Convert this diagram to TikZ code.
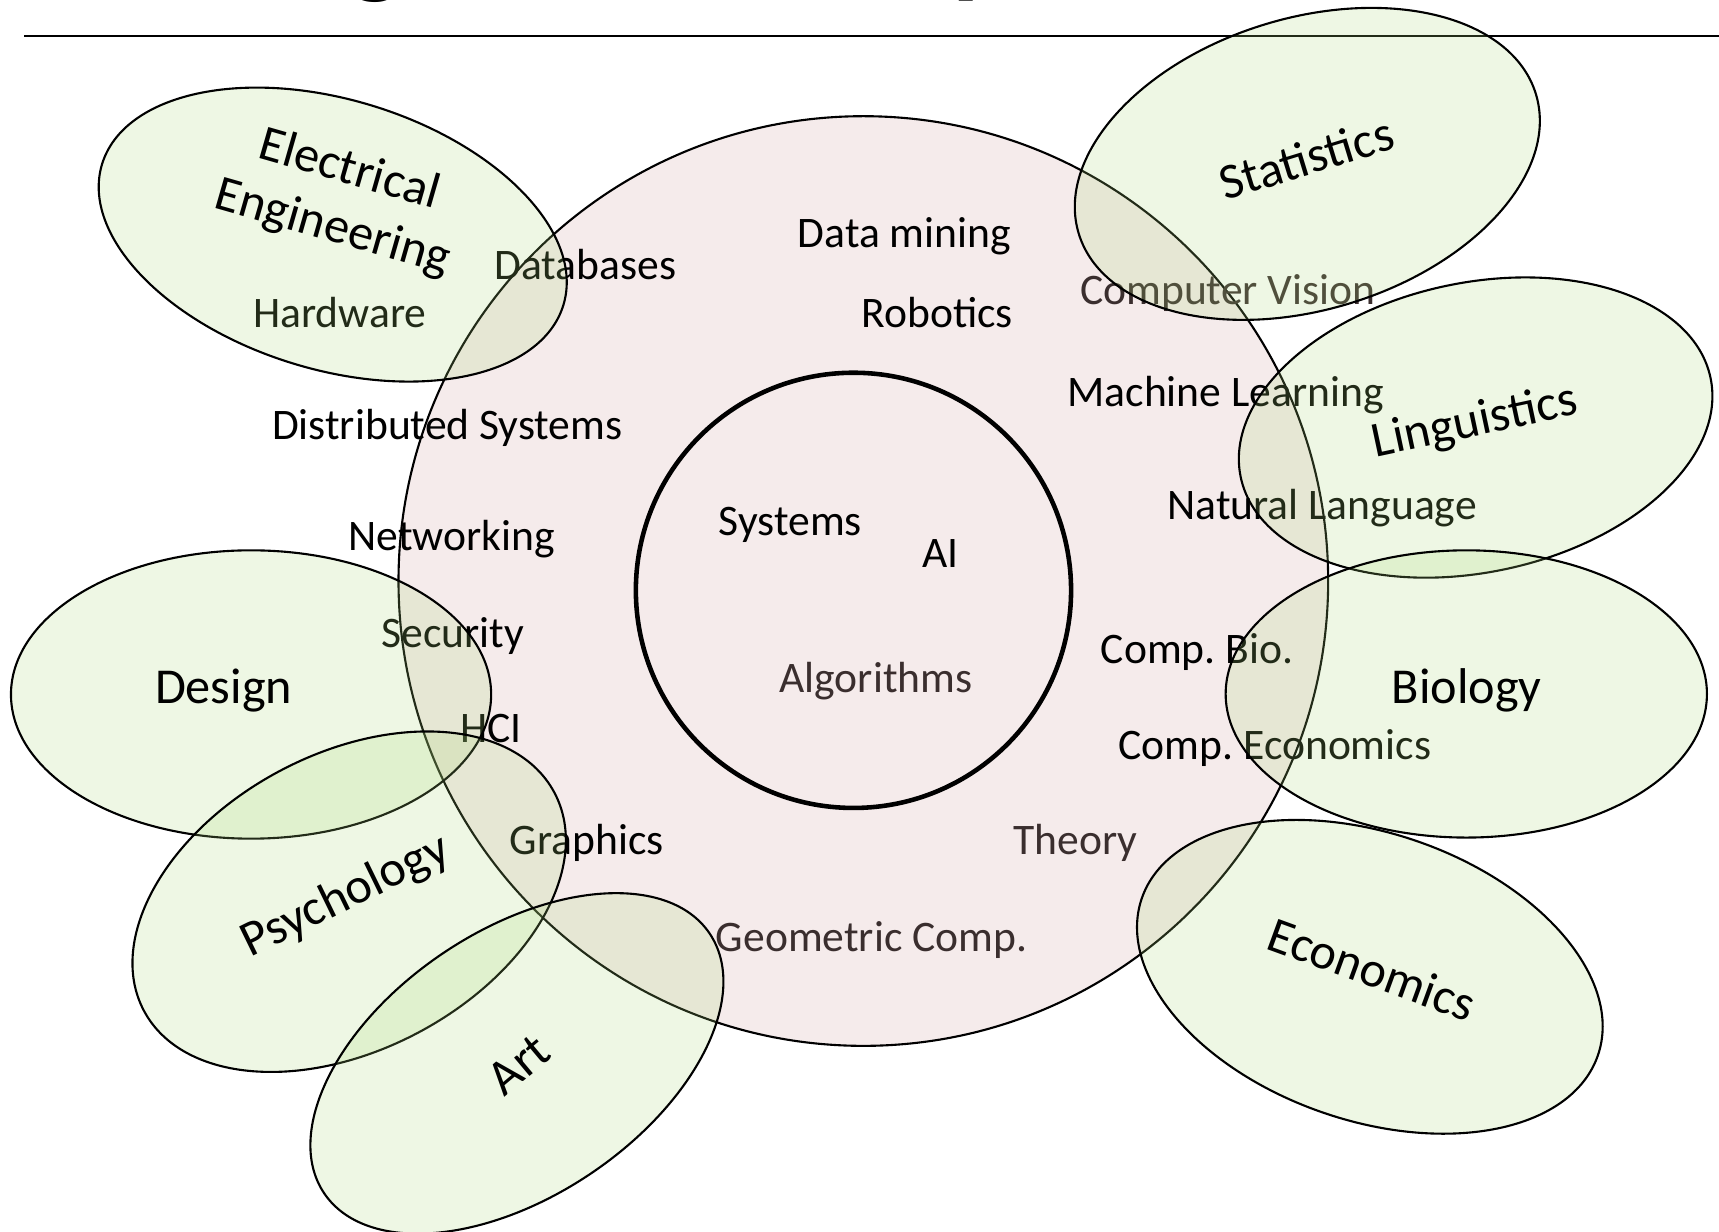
\documentclass[tikz,border=0pt]{standalone}
\usepackage{fontspec}
\setmainfont{Carlito}
\frenchspacing
\definecolor{csfill}{HTML}{F5EBEB}
\definecolor{fieldfill}{RGB}{170,215,120}
\definecolor{softtext}{HTML}{3A2E2E}

\begin{document}
\begin{tikzpicture}[x=0.10963mm, y=-0.10963mm,
        field/.style={draw=black, line width=0.6pt, fill=fieldfill, fill opacity=0.2},
        area/.style={font=\fontsize{12.4}{14}\selectfont, text height=1.6ex, text depth=0.22ex, inner sep=0pt},
        faded/.style={area, text=softtext},
        subject/.style={font=\fontsize{14.3}{17}\selectfont, text height=1.6ex, text depth=0.22ex, inner sep=0pt},
        twoline/.style={font=\fontsize{14.3}{17}\selectfont, inner sep=0pt, align=center}]
    \useasboundingbox (0,0) rectangle (1568,1123);

    \node[font=\bfseries\fontsize{32}{32}\selectfont, anchor=base] (titleg) at (343,-15) {g};
    \node[font=\bfseries\fontsize{32}{32}\selectfont, anchor=base] (titlep) at (896,-15) {p};
    \coordinate (ruleL) at (22,33);
    \coordinate (ruleR) at (1568,33);
    \draw[line width=0.6pt] (ruleL) -- (ruleR);

    \coordinate (core) at (787.5,530);
    \coordinate (inner) at (778.5,538.5);
    \filldraw[fill=csfill, line width=0.6pt] (core) circle [radius=424];
    \draw[line width=1.3pt] (inner) circle [radius=198.5];

    \node[area] (hardware) at (310,288) {Hardware};
    \node[area] (databases) at (534,244) {Databases};
    \node[area] (mining) at (825,215) {Data mining};
    \node[area] (robotics) at (855,288) {Robotics};
    \node[faded] (vision) at (1120,267) {Computer Vision};
    \node[area] (learning) at (1118,360) {Machine Learning};
    \node[area] (language) at (1206,463) {Natural Language};
    \node[area] (distributed) at (408,390) {Distributed Systems};
    \node[area] (networking) at (412,492) {Networking};
    \node[area] (security) at (413,580) {Security};
    \node[area] (hci) at (448,667) {HCI};
    \node[area] (graphics) at (535,769) {Graphics};
    \node[faded] (geometric) at (795,857) {Geometric Comp.};
    \node[faded] (theory) at (981,769) {Theory};
    \node[area] (compbio) at (1092,595) {Comp. Bio.};
    \node[area] (compecon) at (1163,682) {Comp. Economics};
    \node[area] (systems) at (721,478) {Systems};
    \node[area] (ai) at (858,507) {AI};
    \node[faded] (algorithms) at (799,621) {Algorithms};

    \coordinate (ee) at (303.5,214);
    \coordinate (stat) at (1192.5,149.5);
    \coordinate (ling) at (1346,390);
    \coordinate (bio) at (1337.5,633);
    \coordinate (econ) at (1249.5,891);
    \coordinate (des) at (229,633.5);
    \coordinate (psy) at (318.5,822.5);
    \coordinate (art) at (471.5,970);
    \draw[field, rotate around={-17:(ee)}] (ee) ellipse [x radius=220, y radius=123];
    \draw[field, rotate around={17:(stat)}] (stat) ellipse [x radius=218, y radius=133];
    \draw[field, rotate around={12:(ling)}] (ling) ellipse [x radius=219, y radius=132];
    \draw[field] (bio) ellipse [x radius=219.5, y radius=131];
    \draw[field, rotate around={-19:(econ)}] (econ) ellipse [x radius=220, y radius=131];
    \draw[field] (des) ellipse [x radius=219, y radius=131.5];
    \draw[field, rotate around={28:(psy)}] (psy) ellipse [x radius=212, y radius=135];
    \draw[field, rotate around={34:(art)}] (art) ellipse [x radius=212, y radius=121];

    \node[twoline, rotate=-16] (electrical) at (311,182) {Electrical\\Engineering};
    \node[subject, rotate=17] (statistics) at (1193,149) {Statistics};
    \node[subject, rotate=12] (linguistics) at (1346,387) {Linguistics};
    \node[subject] (biology) at (1338,631) {Biology};
    \node[subject, rotate=-20] (economics) at (1250,889) {Economics};
    \node[subject] (design) at (204,631) {Design};
    \node[subject, rotate=26] (psychology) at (316,819) {Psychology};
    \node[subject, rotate=40] (artlabel) at (476,974) {Art};
\end{tikzpicture}
\end{document}
